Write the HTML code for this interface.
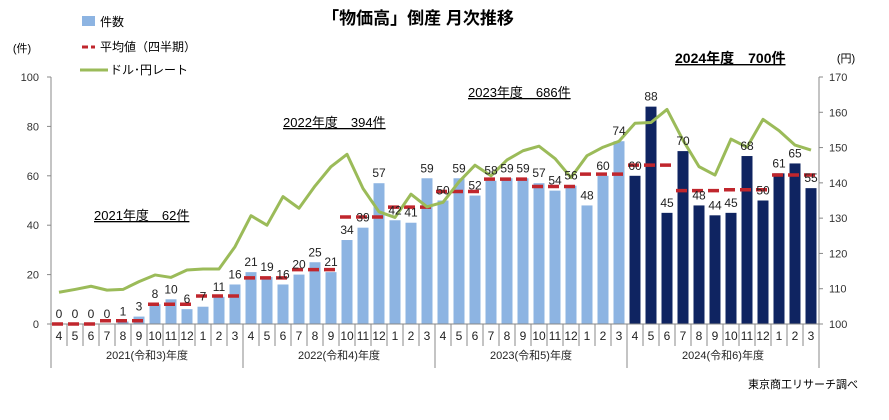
<!DOCTYPE html>
<html><head><meta charset="utf-8"><style>
body{margin:0;background:#fff;font-family:"Liberation Sans","Noto Sans CJK JP",sans-serif;}
svg text{font-family:"Liberation Sans","Noto Sans CJK JP",sans-serif;}
</style></head><body>
<svg id="c" width="889" height="415" viewBox="0 0 889 415" xmlns="http://www.w3.org/2000/svg">
<rect width="889" height="415" fill="#fff"/>
<text x="418" y="24" font-size="17" font-weight="bold" text-anchor="middle">「物価高」倒産 月次推移</text>
<g>
<rect x="82" y="16" width="13" height="10" fill="#8DB4E2"/>
<text x="100" y="26" font-size="12">件数</text>
<line x1="82" y1="47" x2="95" y2="47" stroke="#C0262D" stroke-width="3" stroke-dasharray="6,3"/>
<text x="100" y="51" font-size="12">平均値（四半期）</text>
<line x1="80" y1="70" x2="108" y2="70" stroke="#9BBB59" stroke-width="3"/>
<text x="110" y="74" font-size="12">ドル･円レート</text>
</g>
<text x="22" y="52" font-size="11" text-anchor="middle">(件)</text>
<text x="846" y="62" font-size="11" text-anchor="middle">(円)</text>
<g id="g"></g>
<text x="94" y="220" font-size="13" text-decoration="underline">2021年度　62件</text>
<text x="283" y="127" font-size="13" text-decoration="underline">2022年度　394件</text>
<text x="468" y="97" font-size="13" text-decoration="underline">2023年度　686件</text>
<text x="675" y="63" font-size="14" font-weight="bold" text-decoration="underline">2024年度　700件</text>
<text x="858" y="388" font-size="11" text-anchor="end">東京商工リサーチ調べ</text>
</svg>
<script>
const months=[4,5,6,7,8,9,10,11,12,1,2,3,4,5,6,7,8,9,10,11,12,1,2,3,4,5,6,7,8,9,10,11,12,1,2,3,4,5,6,7,8,9,10,11,12,1,2,3];
const counts=[0,0,0,0,1,3,8,10,6,7,11,16,21,19,16,20,25,21,34,39,57,42,41,59,50,59,52,58,59,59,57,54,56,48,60,74,60,88,45,70,48,44,45,68,50,61,65,55];
const rates=[109.0,109.8,110.7,109.6,109.8,112.0,113.9,113.2,115.3,115.6,115.6,121.9,130.7,128.0,136.1,132.8,139.1,144.6,148.1,138.4,131.8,130.2,136.8,133.2,134.5,140.3,145.0,142.0,146.5,149.1,150.4,146.9,141.5,147.7,150.1,151.8,156.9,157.1,160.8,152.1,144.6,142.2,152.4,150.1,158.0,154.8,150.7,149.3];
const yearLabels=["2021(令和3)年度","2022(令和4)年度","2023(令和5)年度","2024(令和6)年度"];
const leftTicks=[0,20,40,60,80,100];
const rightTicks=[100,110,120,130,140,150,160,170];
const NS="http://www.w3.org/2000/svg",g=document.getElementById('g');
const X0=51,X1=819,Y0=324,YT=77,W=(X1-X0)/counts.length;
const xc=i=>X0+W*(i+0.5);
const yL=v=>Y0-(v/100)*(Y0-YT);
const yR=v=>Y0-((v-100)/70)*(Y0-YT);
function mk(t,a,p){const e=document.createElementNS(NS,t);for(const k in a)e.setAttribute(k,a[k]);(p||g).appendChild(e);return e;}
let e=mk('line',{x1:X0,y1:YT,x2:X0,y2:368,stroke:'#888'});


e=mk('line',{x1:X1,y1:YT,x2:X1,y2:368,stroke:'#888'});


leftTicks.forEach(v=>{mk('line',{x1:X0-4,x2:X0,y1:yL(v),y2:yL(v),stroke:'#888'});
 const t=mk('text',{x:X0-12,y:yL(v)+4,'font-size':11,'text-anchor':'end',fill:'#333'});t.textContent=v;
 
 });
rightTicks.forEach(v=>{mk('line',{x1:X1,x2:X1+4,y1:yR(v),y2:yR(v),stroke:'#888'});
 const t=mk('text',{x:X1+10,y:yR(v)+4,'font-size':11,fill:'#333'});t.textContent=v;
 
 });
counts.forEach((v,i)=>{const b=mk('rect',{x:xc(i)-5.5,y:yL(v),width:11,height:Y0-yL(v),fill:i>=36?'#0F2461':'#8DB4E2'});
 
 });
mk('line',{x1:X0,x2:X1,y1:Y0,y2:Y0,stroke:'#888'});
months.forEach((m,i)=>{const xl=X0+W*i;mk('line',{x1:xl,x2:xl,y1:Y0,y2:i%12==0?368:346,stroke:'#888'});
 const t=mk('text',{x:xc(i),y:340,'font-size':12,'text-anchor':'middle',fill:'#222'});t.textContent=m;
 
 });
yearLabels.forEach((s,k)=>{const t=mk('text',{x:X0+W*(12*k+6),y:359,'font-size':11,'text-anchor':'middle',fill:'#222'});t.textContent=s;
 
 });
for(let q=0;q<counts.length/3;q++){const a=(counts[3*q]+counts[3*q+1]+counts[3*q+2])/3;
 const l=mk('line',{x1:X0+W*3*q+1,x2:X0+W*3*(q+1)-1,y1:yL(a),y2:yL(a),stroke:'#C0262D','stroke-width':3.5,'stroke-dasharray':'11,5'});
 
 }
const p=mk('polyline',{points:rates.map((r,i)=>xc(i)+','+yR(r)).join(' '),fill:'none',stroke:'#9BBB59','stroke-width':3,'stroke-linejoin':'round'});


counts.forEach((v,i)=>{const t=mk('text',{x:xc(i),y:yL(v)-6,'font-size':12,'text-anchor':'middle',fill:'#222'});t.textContent=v;
 
 });
</script>
</body></html>
